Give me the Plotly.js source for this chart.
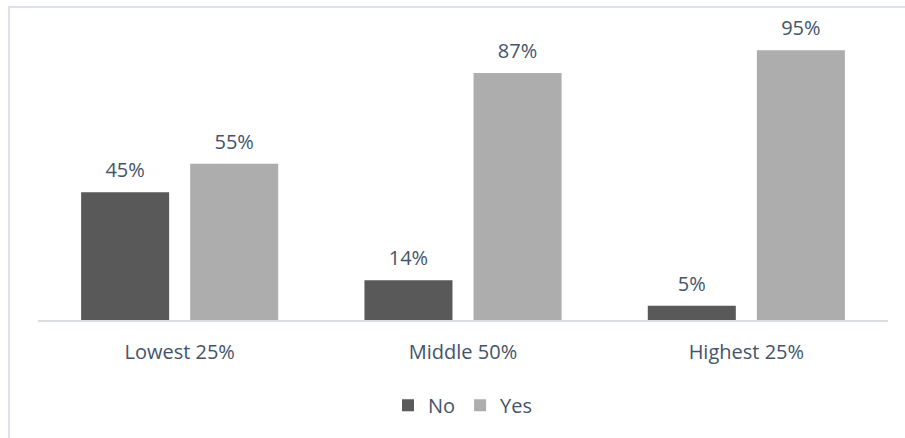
<!DOCTYPE html>
<html>
<head>
<meta charset="utf-8">
<script src="https://cdn.plot.ly/plotly-3.0.1.min.js"></script>
<style>html,body{margin:0;padding:0;background:#fff}#chart{width:905px;height:438px}</style>
</head>
<body>
<div id="chart"></div>
<script>
const categories = ["Lowest 25%", "Middle 50%", "Highest 25%"];
const noValues = [45, 14, 5];
const yesValues = [55, 87, 95];
const seriesNames = ["No", "Yes"];

const textColor = "#44546a";
const font = "Open Sans, Liberation Sans, Arial, sans-serif";

const traces = [
  {type: "bar", name: seriesNames[0], x: categories, y: noValues,
   marker: {color: "#595959"}, offsetgroup: "a", hoverinfo: "none"},
  {type: "bar", name: seriesNames[1], x: categories, y: yesValues,
   marker: {color: "#adadad"}, offsetgroup: "b", hoverinfo: "none"},
  {type: "scatter", mode: "markers+text", x: categories, y: noValues,
   text: noValues.map(v => v + "%"), textposition: "top center",
   textfont: {size: 20, color: textColor, family: font},
   marker: {size: 14, opacity: 0}, offsetgroup: "a", showlegend: false, hoverinfo: "none", cliponaxis: false},
  {type: "scatter", mode: "markers+text", x: categories, y: yesValues,
   text: yesValues.map(v => v + "%"), textposition: "top center",
   textfont: {size: 20, color: textColor, family: font},
   marker: {size: 14, opacity: 0}, offsetgroup: "b", showlegend: false, hoverinfo: "none", cliponaxis: false}
];

const layout = {
  width: 905, height: 438,
  margin: {l: 38, r: 17, t: 36, b: 118},
  paper_bgcolor: "#ffffff", plot_bgcolor: "#ffffff",
  barmode: "group", bargap: 0.23, bargroupgap: 0.193,
  scattermode: "group", scattergap: 0.23,
  font: {family: font, color: textColor, size: 20},
  xaxis: {showline: true, linecolor: "#d9dde3", linewidth: 2, ticks: "", showgrid: false,
          ticklabelstandoff: 13,
          tickfont: {size: 20, color: textColor, family: font}, fixedrange: true},
  yaxis: {range: [0, 100], visible: false, showgrid: false, zeroline: false, fixedrange: true},
  showlegend: true,
  legend: {orientation: "h", x: 0.5, xanchor: "center", y: -0.30, yanchor: "middle",
           font: {size: 20, color: textColor, family: font}, itemwidth: 30, traceorder: "normal"},
  shapes: [{type: "rect", xref: "paper", yref: "paper", x0: -0.0341, x1: 1.2, y0: -0.6, y1: 1.102,
            line: {color: "#dde2ea", width: 2}, fillcolor: "rgba(0,0,0,0)", layer: "below"}]
};

Plotly.newPlot("chart", traces, layout, {displayModeBar: false, staticPlot: true});
</script>
</body>
</html>
